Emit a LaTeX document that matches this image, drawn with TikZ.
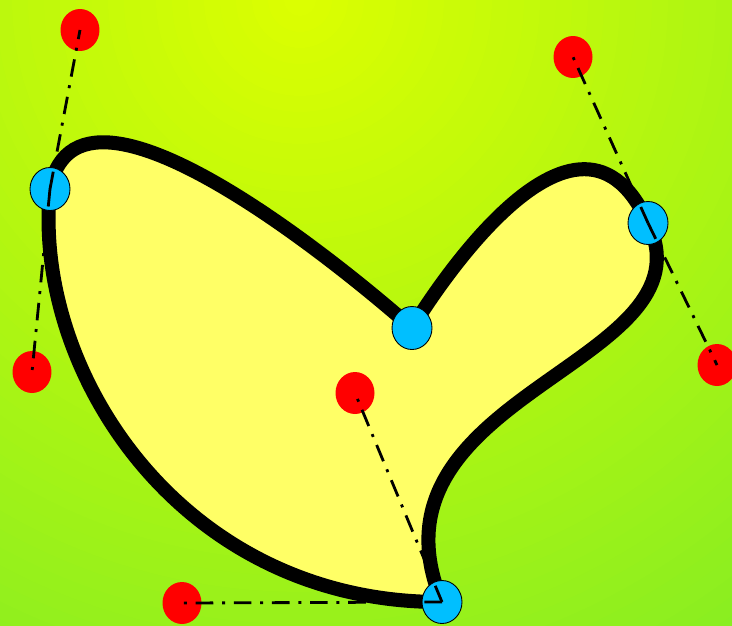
\documentclass[tikz,border=0pt]{standalone}
\definecolor{bgtop}{HTML}{DDFF00}
\definecolor{bgbot}{HTML}{86ED22}
\definecolor{blobfill}{HTML}{FFFF66}
\definecolor{anchorblue}{HTML}{00BFFF}
\tikzset{
  ctrlline/.style={line width=1.6pt, dash pattern=on 10pt off 5pt on 1.7pt off 5pt},
  ctrlpt/.style={fill=red},
  anchorpt/.style={fill=anchorblue, draw=black, line width=0.5pt}
}
\begin{document}
\begin{tikzpicture}[x=0.02cm,y=-0.02cm]
    \useasboundingbox (0,0) rectangle (732,625);

    % 背景
    \begin{scope}
      \clip (0,0) rectangle (732,625);
      \foreach \i in {50,49,...,1} {
        \pgfmathsetmacro\pct{\i*2}
        \fill[bgbot!\pct!bgtop] (300,0) circle ({\i*0.32cm});
      }
    \end{scope}

    % 端点
    \coordinate (P1) at (50,189);
    \coordinate (P2) at (412,328);
    \coordinate (P3) at (648,223);
    \coordinate (P4) at (442,602);

    % 制御点
    \coordinate (C1a) at (80,30);
    \coordinate (C1b) at (32,372);
    \coordinate (C3a) at (573,57);
    \coordinate (C3b) at (717,365);
    \coordinate (C4a) at (355,393);
    \coordinate (C4b) at (182,603);

    % 閉曲線
    \filldraw[fill=blobfill, line width=8pt, line join=round]
      (P1) .. controls (C1a) and (P2) .. (P2)
           .. controls (P2) and (C3a) .. (P3)
           .. controls (C3b) and (C4a) .. (P4)
           .. controls (C4b) and (C1b) .. cycle;

    % 制御点の円
    \foreach \c in {C1a,C1b,C3a,C3b,C4a,C4b}
      \fill[ctrlpt] (\c) ellipse (0.39cm and 0.42cm);

    % 端点の円
    \foreach \p in {P1,P2,P3,P4}
      \filldraw[anchorpt] (\p) ellipse (0.4cm and 0.43cm);

    % 接線
    \draw[ctrlline] (P1) -- (C1a);
    \draw[ctrlline] (P1) -- (C1b);
    \draw[ctrlline] (P3) -- (C3a);
    \draw[ctrlline] (P3) -- (C3b);
    \draw[ctrlline] (P4) -- (C4a);
    \draw[ctrlline] (P4) -- (C4b);
  \end{tikzpicture}
\end{document}
